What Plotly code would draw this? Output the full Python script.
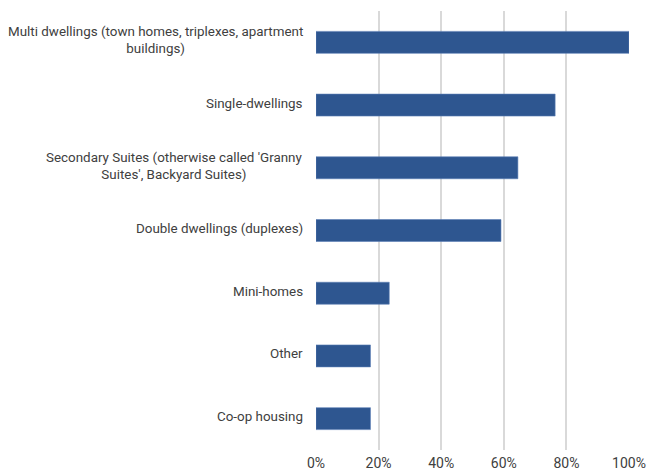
import plotly.graph_objects as go

categories = [
    "Multi dwellings (town homes, triplexes, apartment<br>buildings)",
    "Single-dwellings",
    "Secondary Suites (otherwise called 'Granny<br>Suites', Backyard Suites)",
    "Double dwellings (duplexes)",
    "Mini-homes",
    "Other",
    "Co-op housing",
]
shares = [1.00, 0.764, 0.645, 0.591, 0.234, 0.174, 0.174]
x_ticks = [0, 0.2, 0.4, 0.6, 0.8, 1.0]

FONT = "Roboto, Liberation Sans, sans-serif"
TEXT = "#404040"

fig = go.Figure(
    go.Bar(
        x=shares,
        y=categories,
        orientation="h",
        marker=dict(color="#2E5690", line=dict(color="#5B7DB5", width=0.6)),
        hoverinfo="x+y",
    )
)

# Category labels, centred line-by-line and right-aligned against the axis
for cat in categories:
    fig.add_annotation(
        x=0, xref="paper", y=cat, yref="y",
        text=cat, showarrow=False,
        xanchor="right", yanchor="middle", align="center",
        xshift=-11, yshift=2,
        font=dict(family=FONT, size=13.4, color=TEXT),
    )

fig.update_layout(
    width=650, height=471,
    margin=dict(l=316, r=21, t=11, b=21, autoexpand=False),
    paper_bgcolor="white", plot_bgcolor="white",
    bargap=0.65,
    showlegend=False,
    font=dict(family=FONT, size=14, color=TEXT),
)
fig.update_xaxes(
    range=[0, 1.0],
    tickvals=x_ticks,
    tickformat=".0%",
    automargin=False,
    ticklabelstandoff=3,
    showgrid=True, gridcolor="#D9D9D9", gridwidth=2,
    zeroline=False, showline=False, ticks="",
    tickfont=dict(family=FONT, size=14, color=TEXT),
)
fig.update_yaxes(
    autorange="reversed",
    automargin=False,
    showticklabels=False,
    showgrid=False, zeroline=False, showline=False, ticks="",
)

fig.write_html("out.html")
